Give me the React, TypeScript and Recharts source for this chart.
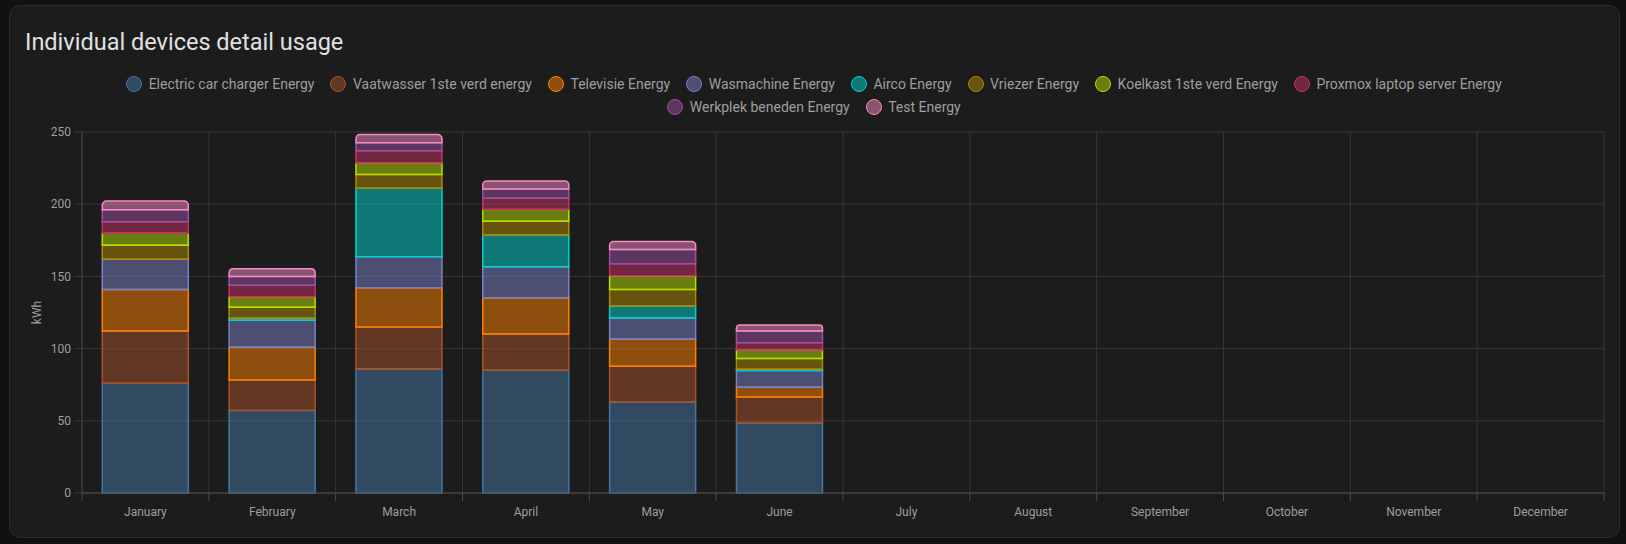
import React from "react";
import { BarChart, Bar, XAxis, YAxis, CartesianGrid } from "recharts";

const MONTHS = [
  "January", "February", "March", "April", "May", "June",
  "July", "August", "September", "October", "November", "December",
];

// kWh per maand, alleen jan t/m jun hebben data
const CAR = [76.0, 57.1, 85.9, 85.0, 63.1, 48.4];
const VAATWASSER = [36.2, 21.2, 29.1, 25.1, 24.7, 18.0];
const TELEVISIE = [28.8, 22.6, 27.2, 25.2, 18.7, 6.9];
const WASMACHINE = [20.8, 18.7, 21.4, 21.4, 14.7, 11.5];
const AIRCO = [0, 1.4, 47.5, 21.9, 8.3, 0.9];
const VRIEZER = [9.7, 7.6, 9.4, 9.6, 11.5, 7.4];
const KOELKAST = [8.3, 7.3, 8.1, 8.1, 9.5, 6.0];
const PROXMOX = [8.1, 7.9, 8.5, 7.8, 8.3, 5.0];
const WERKPLEK = [8.3, 6.2, 5.5, 6.5, 9.9, 8.1];
const TEST = [6.0, 5.3, 5.6, 5.5, 5.5, 4.2];

const Y_TICKS = [0, 50, 100, 150, 200, 250];

const SERIES = [
  { key: "car", name: "Electric car charger Energy", values: CAR, color: "#4676a6" },
  { key: "vaat", name: "Vaatwasser 1ste verd energy", values: VAATWASSER, color: "#a8532b" },
  { key: "tv", name: "Televisie Energy", values: TELEVISIE, color: "#ff8000" },
  { key: "wasm", name: "Wasmachine Energy", values: WASMACHINE, color: "#7c80c8" },
  { key: "airco", name: "Airco Energy", values: AIRCO, color: "#00d4d0" },
  { key: "vriezer", name: "Vriezer Energy", values: VRIEZER, color: "#ad8a00" },
  { key: "koelkast", name: "Koelkast 1ste verd Energy", values: KOELKAST, color: "#b5e000" },
  { key: "proxmox", name: "Proxmox laptop server Energy", values: PROXMOX, color: "#c83062" },
  { key: "werkplek", name: "Werkplek beneden Energy", values: WERKPLEK, color: "#9c50a2" },
  { key: "test", name: "Test Energy", values: TEST, color: "#f88ac4" },
];

const data = MONTHS.map((month, i) => {
  const row: Record<string, string | number | undefined> = { month };
  SERIES.forEach((s) => {
    row[s.key] = s.values[i];
  });
  return row;
});

const W = 1626;
const H = 544;
const MARGIN = { top: 132, right: 22, bottom: 21, left: 22 };
const Y_AXIS_W = 60;
const X_AXIS_H = 30;
const PLOT_W = W - MARGIN.left - MARGIN.right - Y_AXIS_W;
const BAND = PLOT_W / MONTHS.length;

const FONT = "Roboto, 'Noto Sans', sans-serif";
const TEXT = "#9e9e9e";
const GRID = "#363636";
const AXIS = "#4d4d4d";

function MonthTick(props: any) {
  const { x, y, payload, index } = props;
  const axisY = y - 8 - 4;
  return (
    <g>
      <line x1={x - BAND / 2} x2={x - BAND / 2} y1={axisY} y2={axisY + 8} stroke={AXIS} />
      {index === MONTHS.length - 1 && (
        <line x1={x + BAND / 2} x2={x + BAND / 2} y1={axisY} y2={axisY + 8} stroke={AXIS} />
      )}
      <text
        x={x}
        y={y + 2}
        dy="0.71em"
        textAnchor="middle"
        fill={TEXT}
        fontSize={12}
        fontFamily={FONT}
      >
        {payload.value}
      </text>
    </g>
  );
}

export default function App() {
  return (
    <div style={{ position: "fixed", inset: 0, background: "#111111", fontFamily: FONT }}>
      <div
        style={{
          position: "absolute",
          left: 9,
          top: 5,
          width: 1609,
          height: 531,
          background: "#1c1c1c",
          border: "1px solid #2c2c2c",
          borderRadius: 11,
        }}
      />
      <div
        style={{
          position: "absolute",
          left: 25,
          top: 26,
          fontSize: 23.5,
          lineHeight: "32px",
          color: "#e1e1e1",
          whiteSpace: "nowrap",
        }}
      >
        Individual devices detail usage
      </div>
      <div
        style={{
          position: "absolute",
          left: 64,
          width: 1500,
          top: 72,
          display: "flex",
          flexWrap: "wrap",
          justifyContent: "center",
          rowGap: 0,
        }}
      >
        {SERIES.map((s) => (
          <div
            key={s.key}
            style={{
              display: "flex",
              alignItems: "center",
              height: 23.4,
              margin: "0 8px",
            }}
          >
            <span
              style={{
                width: 14,
                height: 14,
                borderRadius: "50%",
                border: `1px solid ${s.color}`,
                background: s.color + "80",
                marginRight: 6.5,
                boxSizing: "content-box",
              }}
            />
            <span style={{ fontSize: 14, color: TEXT, whiteSpace: "nowrap" }}>{s.name}</span>
          </div>
        ))}
      </div>
      <div style={{ position: "absolute", left: 0, top: 0 }}>
        <BarChart width={W} height={H} data={data} margin={MARGIN} barCategoryGap="16%">
          <CartesianGrid
            stroke={GRID}
            verticalCoordinatesGenerator={({ offset }: any) =>
              MONTHS.map((_, i) => offset.left + (i + 1) * (offset.width / MONTHS.length))
            }
          />
          <XAxis
            dataKey="month"
            height={X_AXIS_H}
            axisLine={{ stroke: AXIS }}
            tickLine={false}
            tickSize={8}
            tickMargin={4}
            interval={0}
            tick={<MonthTick />}
          />
          <YAxis
            width={Y_AXIS_W}
            domain={[0, 250]}
            ticks={Y_TICKS}
            axisLine={{ stroke: AXIS }}
            tickLine={{ stroke: GRID }}
            tickSize={8}
            tickMargin={3}
            tick={{ fill: TEXT, fontSize: 12, fontFamily: FONT }}
            label={{
              value: "kWh",
              angle: -90,
              position: "center",
              dx: -15,
              fill: TEXT,
              fontSize: 12,
              fontFamily: FONT,
            }}
          />
          {SERIES.map((s, i) => (
            <Bar
              key={s.key}
              dataKey={s.key}
              name={s.name}
              stackId="a"
              fill={s.color}
              fillOpacity={0.5}
              stroke={s.color}
              strokeWidth={1.5}
              radius={i === SERIES.length - 1 ? [5, 5, 0, 0] : 0}
              isAnimationActive={false}
            />
          ))}
        </BarChart>
      </div>
    </div>
  );
}
